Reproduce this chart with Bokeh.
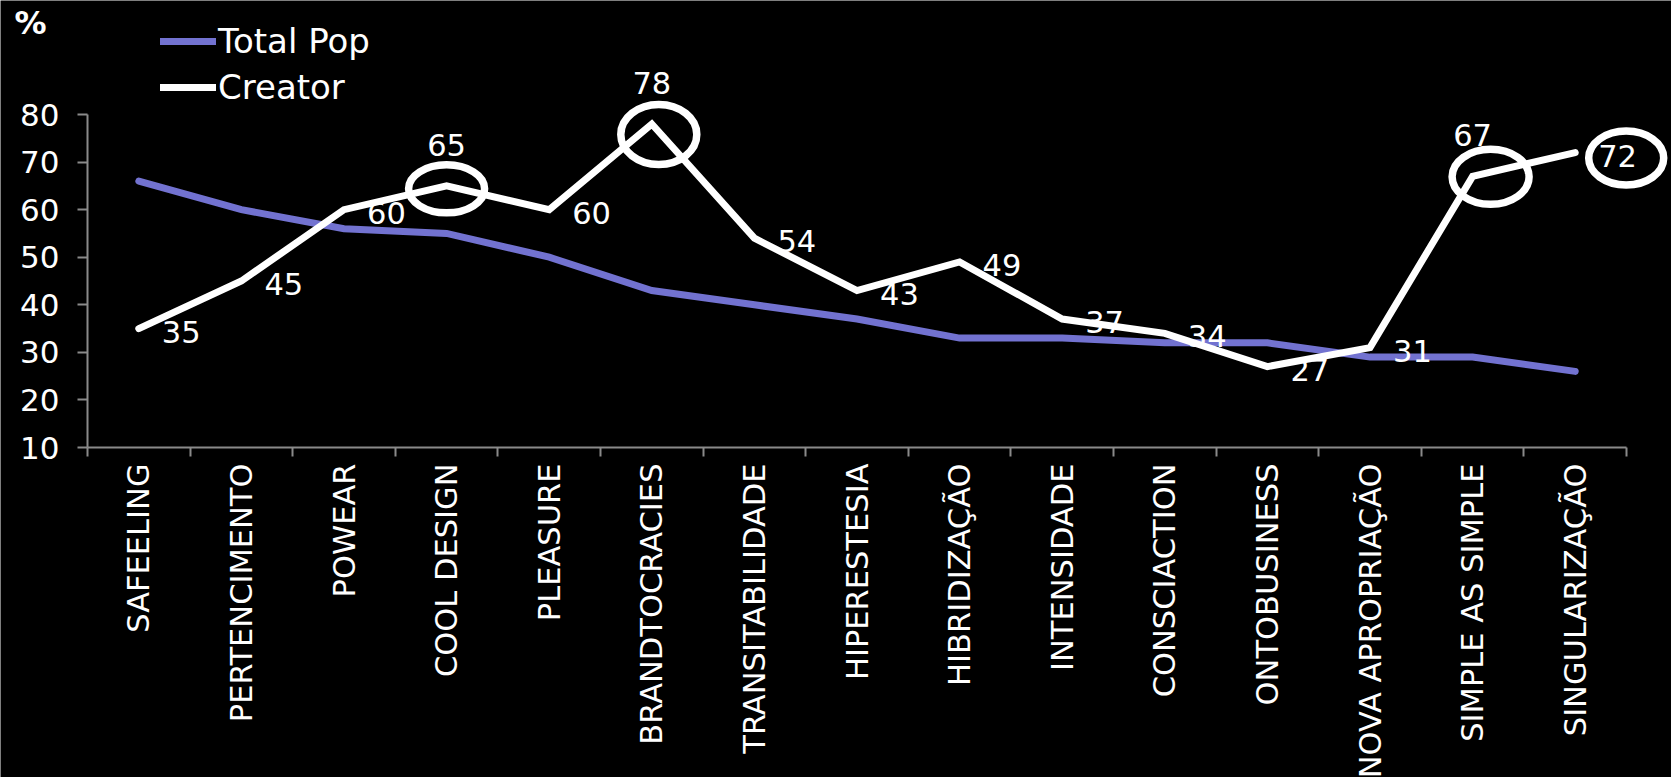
import math
from bokeh.plotting import figure
from bokeh.models import (ColumnDataSource, Range1d, LinearAxis, FixedTicker,
                          Legend, LegendItem)
from bokeh.core.properties import value
from bokeh.embed import file_html
from bokeh.resources import INLINE

# ---------------- data ----------------
categories = ["SAFEELING", "PERTENCIMENTO", "POWEAR", "COOL DESIGN", "PLEASURE",
              "BRANDTOCRACIES", "TRANSITABILIDADE", "HIPERESTESIA", "HIBRIDIZAÇÃO",
              "INTENSIDADE", "CONSCIACTION", "ONTOBUSINESS", "NOVA APROPRIAÇÃO",
              "SIMPLE AS SIMPLE", "SINGULARIZAÇÃO"]
total_pop = [66, 60, 56, 55, 50, 43, 40, 37, 33, 33, 32, 32, 29, 29, 26]
creator = [35, 45, 60, 65, 60, 78, 54, 43, 49, 37, 34, 27, 31, 67, 72]
y_ticks = [10, 20, 30, 40, 50, 60, 70, 80]
series_names = ["Total Pop", "Creator"]
unit_label = "%"
labels_above = ["COOL DESIGN", "BRANDTOCRACIES", "SIMPLE AS SIMPLE"]
circled = ["COOL DESIGN", "BRANDTOCRACIES", "SIMPLE AS SIMPLE", "SINGULARIZAÇÃO"]

# ---------------- styles / layout ----------------
FONT = "DejaVu Sans"
W, H = 1671, 777
AXIS_X_PX = 87      # pixel column of the y axis
AXIS_Y_PX = 447     # pixel row of the x axis
PX_PER_CAT = 102.6
PX_PER_UNIT = 333 / 70
# circle highlight offsets (px right, px down) and sizes
circle_dx = [0, 7, 18, 51]
circle_dy = [3, 10.5, 0.5, 5.5]
circle_w = [76, 76, 77, 75]
circle_h = [48, 60, 55, 54]

n = len(categories)
y_base = y_ticks[0]
x_range = Range1d(-AXIS_X_PX / PX_PER_CAT, (W - AXIS_X_PX) / PX_PER_CAT)
y_range = Range1d(y_base - (H - AXIS_Y_PX) / PX_PER_UNIT, y_base + AXIS_Y_PX / PX_PER_UNIT)

xs = [i + 0.5 for i in range(n)]

p = figure(width=W, height=H, x_range=x_range, y_range=y_range,
           output_backend="svg", toolbar_location=None,
           x_axis_location=None, y_axis_location=None,
           background_fill_color="black", border_fill_color="black",
           outline_line_color=None,
           min_border_left=0, min_border_right=0,
           min_border_top=0, min_border_bottom=0)
p.grid.visible = False

GRAY = "#8a8a8a"

xaxis = LinearAxis(
    fixed_location=y_base,
    bounds=(0, n),
    ticker=FixedTicker(ticks=xs, minor_ticks=list(range(n + 1))),
    major_label_overrides={x: c for x, c in zip(xs, categories)},
    major_label_orientation=math.pi / 2,
    major_tick_out=0, major_tick_in=0,
    minor_tick_out=9, minor_tick_in=0,
    axis_line_color=GRAY, axis_line_width=2,
    minor_tick_line_color=GRAY, minor_tick_line_width=2,
    major_label_text_color="white",
    major_label_text_font=FONT,
    major_label_text_font_size="30.5px",
    major_label_standoff=7,
)
p.add_layout(xaxis, "below")

yaxis = LinearAxis(
    fixed_location=0,
    bounds=(y_ticks[0], y_ticks[-1]),
    ticker=FixedTicker(ticks=y_ticks, minor_ticks=[]),
    major_tick_out=10, major_tick_in=0,
    axis_line_color=GRAY, axis_line_width=2,
    major_tick_line_color=GRAY, major_tick_line_width=2,
    major_label_text_color="white",
    major_label_text_font=FONT,
    major_label_text_font_size="31px",
    major_label_standoff=18,
)
p.add_layout(yaxis, "left")

src = ColumnDataSource(dict(x=xs, total=total_pop, creator=creator, cat=categories))

r_total = p.line("x", "total", source=src, line_color="#7272D0", line_width=7,
                 line_cap="round", line_join="miter")
r_creator = p.line("x", "creator", source=src, line_color="white", line_width=7,
                   line_cap="round", line_join="miter")

# data labels
right_idx = [i for i, c in enumerate(categories) if c not in labels_above]
above_idx = [i for i, c in enumerate(categories) if c in labels_above]
src_right = ColumnDataSource(dict(x=[xs[i] for i in right_idx],
                                  y=[creator[i] for i in right_idx],
                                  t=[str(creator[i]) for i in right_idx]))
src_above = ColumnDataSource(dict(x=[xs[i] for i in above_idx],
                                  y=[creator[i] for i in above_idx],
                                  t=[str(creator[i]) for i in above_idx]))
p.text("x", "y", text="t", source=src_right, text_color="white",
       text_font=value(FONT), text_font_size="30.5px",
       text_align="left", text_baseline="middle", x_offset=23, y_offset=3)
p.text("x", "y", text="t", source=src_above, text_color="white",
       text_font=value(FONT), text_font_size="30.5px",
       text_align="center", text_baseline="middle", x_offset=0, y_offset=-41)

# highlight ellipses
c_idx = [categories.index(c) for c in circled]
src_c = ColumnDataSource(dict(
    x=[xs[i] + dx / PX_PER_CAT for i, dx in zip(c_idx, circle_dx)],
    y=[creator[i] - dy / PX_PER_UNIT for i, dy in zip(c_idx, circle_dy)],
    w=circle_w, h=circle_h))
p.ellipse("x", "y", width="w", height="h", source=src_c,
          width_units="screen", height_units="screen",
          fill_color=None, line_color="white", line_width=7.5)

# unit label "%" at the top-left corner
src_unit = ColumnDataSource(dict(x=[x_range.start + 14 / PX_PER_CAT],
                                 y=[y_range.end - 22 / PX_PER_UNIT],
                                 t=[unit_label]))
p.text("x", "y", text="t", source=src_unit, text_color="white",
       text_font=value(FONT), text_font_size="32px", text_font_style="bold",
       text_align="left", text_baseline="middle")

legend = Legend(items=[LegendItem(label=series_names[0], renderers=[r_total]),
                       LegendItem(label=series_names[1], renderers=[r_creator])],
                location=(160, 670), orientation="vertical",
                background_fill_alpha=0, border_line_color=None,
                label_text_color="white", label_text_font=FONT,
                label_text_font_size="34px",
                glyph_width=56, glyph_height=36, label_height=36,
                label_standoff=2, spacing=6, padding=0, margin=0)
p.add_layout(legend, "center")

open("out.html", "w").write(file_html(p, INLINE))
